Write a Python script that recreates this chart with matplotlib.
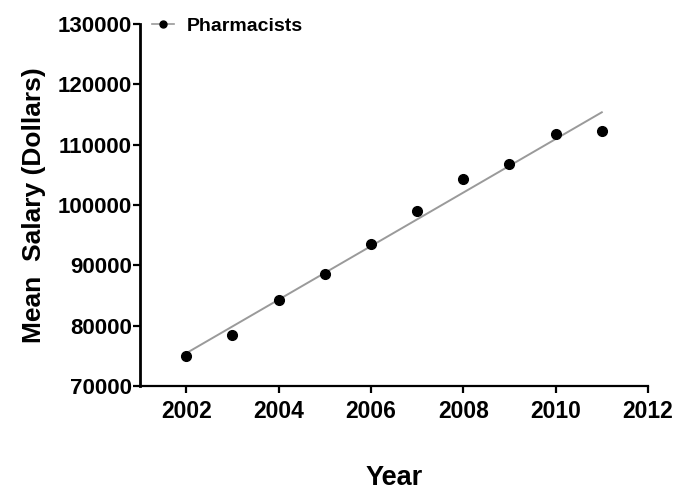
import numpy as np
import matplotlib
matplotlib.use("Agg")
import matplotlib.pyplot as plt
from matplotlib.lines import Line2D

plt.rcParams['font.family'] = ['Liberation Sans', 'DejaVu Sans']
plt.rcParams['font.weight'] = 'bold'

years = [2002, 2003, 2004, 2005, 2006, 2007, 2008, 2009, 2010, 2011]
salary = [75000, 78500, 84300, 88600, 93600, 99000, 104300, 106800, 111700, 112200]
x_ticks = [2002, 2004, 2006, 2008, 2010, 2012]
y_ticks = [70000, 80000, 90000, 100000, 110000, 120000, 130000]

fig = plt.figure(figsize=(6.74, 4.90), dpi=100)
ax = fig.add_axes([0.2077, 0.2122, 0.7537, 0.7388])

# linear trend through the yearly means
slope, intercept = np.polyfit(years, salary, 1)
fit_x = np.array([years[0], years[-1]])
ax.plot(fit_x, slope * fit_x + intercept, color='#9a9a9a', lw=1.4, zorder=1)
ax.plot(years, salary, 'o', color='black', ms=7, zorder=2)

ax.set_xlim(2001, 2012)
ax.set_ylim(70000, 130000)
ax.set_xticks(x_ticks)
ax.set_yticks(y_ticks)
ax.set_xticklabels([str(t) for t in x_ticks], fontsize=16.5, fontweight='bold')
ax.set_yticklabels([str(t) for t in y_ticks], fontsize=16, fontweight='bold')

for s in ['top', 'right']:
    ax.spines[s].set_visible(False)
ax.spines['left'].set_linewidth(2.0)
ax.spines['bottom'].set_linewidth(1.6)
ax.tick_params(axis='both', direction='out', length=5, width=1.6)
ax.tick_params(axis='x', pad=5)
ax.tick_params(axis='y', pad=1)

ax.set_xlabel('Year', fontsize=19.5, fontweight='bold', labelpad=30)
ax.set_ylabel('Mean  Salary (Dollars)', fontsize=19, fontweight='bold', labelpad=8)

handle = Line2D([], [], color='#9a9a9a', lw=1.2, marker='o', ms=5,
                markerfacecolor='black', markeredgecolor='black')
ax.legend([handle], ['Pharmacists'], loc='upper left', bbox_to_anchor=(-0.01, 1.068),
          frameon=False, handlelength=1.1, handletextpad=0.67,
          prop={'weight': 'bold', 'size': 14})

fig.savefig('out.png', dpi=100)
